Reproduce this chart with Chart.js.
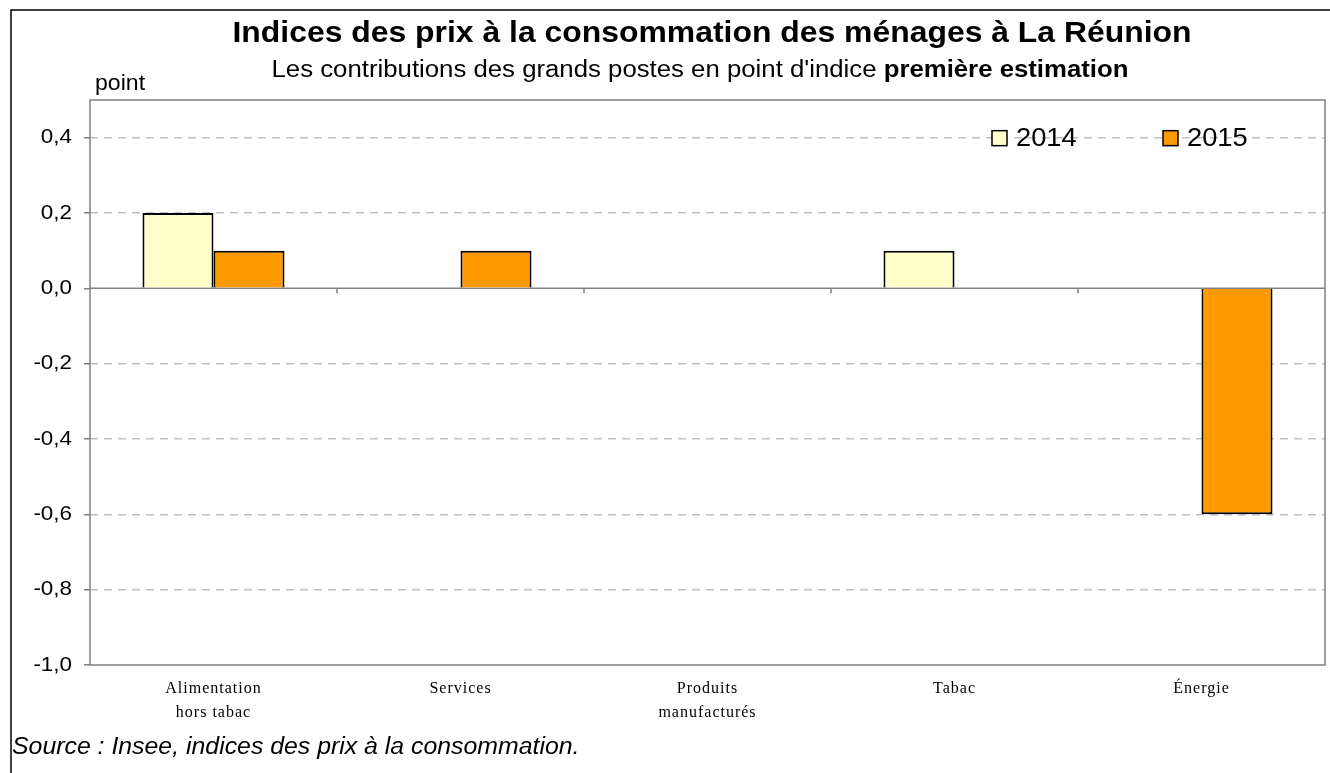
<!DOCTYPE html>
<html>
<head>
<meta charset="utf-8">
<script src="https://cdn.jsdelivr.net/npm/chart.js@4.4.0/dist/chart.umd.min.js"></script>
<style>
body { margin: 0; background: #fff; }
#wrap { width: 1330px; height: 773px; position: relative; }
</style>
</head>
<body>
<div id="wrap"><canvas id="chart"></canvas></div>
<script>
const categories = [['Alimentation', 'hors tabac'], 'Services', ['Produits', 'manufacturés'], 'Tabac', 'Énergie'];
const seriesLabels = ['2014', '2015'];
const values2014 = [0.2, 0, 0, 0.1, 0];
const values2015 = [0.1, 0.1, 0, 0, -0.6];
const seriesColors = ['#ffffcc', '#ff9900'];
const yMin = -1, yMax = 0.5, yStep = 0.2;

const titleText = 'Indices des prix à la consommation des ménages à La Réunion';
const subtitleText = "Les contributions des grands postes en point d'indice ";
const subtitleBold = 'première estimation';
const unitText = 'point';
const sourceText = 'Source : Insee, indices des prix à la consommation.';

const fmt = v => v.toFixed(1).replace('.', ',');
const SANS = 'Arial, "Liberation Sans"';

// texte un peu étiré en largeur, comme sur l'image d'origine
function stretchedText(ctx, text, x, y, font, sx) {
    ctx.save();
    ctx.font = font;
    ctx.translate(x, y);
    ctx.scale(sx, 1);
    ctx.fillText(text, 0, 0);
    ctx.restore();
}

function textWidth(ctx, text, font, sx) {
    ctx.save();
    ctx.font = font;
    const w = ctx.measureText(text).width * sx;
    ctx.restore();
    return w;
}

// cadre, ligne du zéro, textes et légende dessinés à la main
const decor = {
    id: 'decor',
    beforeDraw(chart) {
        chart.ctx.letterSpacing = '1px';
    },
    beforeDatasetsDraw(chart) {
        const { ctx, chartArea: a, scales: { x, y } } = chart;
        const y0 = y.getPixelForValue(0);
        ctx.save();
        ctx.strokeStyle = '#808080';
        ctx.lineWidth = 1.5;
        ctx.beginPath();
        ctx.moveTo(a.left, y0);
        ctx.lineTo(a.right, y0);
        for (let i = 1; i < categories.length; i++) {
            const px = (x.getPixelForValue(i - 1) + x.getPixelForValue(i)) / 2;
            ctx.moveTo(px, y0);
            ctx.lineTo(px, y0 + 5);
        }
        ctx.stroke();
        ctx.strokeRect(a.left, a.top, a.right - a.left, a.bottom - a.top);
        ctx.restore();
    },
    afterDraw(chart) {
        const { ctx, chartArea: a, scales: { y } } = chart;
        ctx.save();
        ctx.letterSpacing = '0px';
        // bordure extérieure
        ctx.strokeStyle = '#000';
        ctx.lineWidth = 1.5;
        ctx.beginPath();
        ctx.moveTo(11, 773);
        ctx.lineTo(11, 10);
        ctx.lineTo(1330, 10);
        ctx.stroke();

        ctx.fillStyle = '#000';
        ctx.textBaseline = 'middle';

        // graduations de l'axe vertical
        ctx.textAlign = 'right';
        y.ticks.forEach((t, i) => {
            if (t.label === null || t.label === undefined) return;
            stretchedText(ctx, t.label, a.left - 18, y.getPixelForTick(i), '20px ' + SANS, 1.12);
        });

        ctx.textAlign = 'left';
        const fTitle = 'bold 29px ' + SANS;
        const wt = textWidth(ctx, titleText, fTitle, 1.1);
        stretchedText(ctx, titleText, 712 - wt / 2, 34, fTitle, 1.1);

        const fSub = '23px ' + SANS, fSubB = 'bold 23px ' + SANS;
        const w1 = textWidth(ctx, subtitleText, fSub, 1.12);
        const w2 = textWidth(ctx, subtitleBold, fSubB, 1.12);
        const sx = 700 - (w1 + w2) / 2;
        stretchedText(ctx, subtitleText, sx, 71, fSub, 1.12);
        stretchedText(ctx, subtitleBold, sx + w1, 71, fSubB, 1.12);

        stretchedText(ctx, unitText, 95, 84, '22px ' + SANS, 1.05);
        stretchedText(ctx, sourceText, 12, 748, 'italic 23px ' + SANS, 1.08);

        // légende dans la zone du graphique
        const ly = y.getPixelForValue(0.4);
        const lx = [992, 1163];
        chart.data.datasets.forEach((ds, i) => {
            ctx.fillStyle = ds.backgroundColor;
            ctx.fillRect(lx[i], ly - 7, 15, 15);
            ctx.strokeStyle = '#000';
            ctx.lineWidth = 1.5;
            ctx.strokeRect(lx[i], ly - 7, 15, 15);
            ctx.fillStyle = '#000';
            stretchedText(ctx, ds.label, lx[i] + 24, ly + 1, '26px ' + SANS, 1.05);
        });
        ctx.restore();
    }
};

new Chart(document.getElementById('chart'), {
    type: 'bar',
    data: {
        labels: categories,
        datasets: [
            { label: seriesLabels[0], data: values2014, backgroundColor: seriesColors[0], borderColor: '#000', borderWidth: 2 },
            { label: seriesLabels[1], data: values2015, backgroundColor: seriesColors[1], borderColor: '#000', borderWidth: 2 }
        ]
    },
    options: {
        responsive: true,
        maintainAspectRatio: false,
        animation: false,
        layout: { padding: { left: 0, right: 5, top: 100, bottom: 0 } },
        datasets: { bar: { categoryPercentage: 0.575, barPercentage: 1 } },
        plugins: {
            legend: { display: false },
            tooltip: { enabled: false }
        },
        scales: {
            x: {
                grid: { display: false },
                border: { display: false },
                afterFit: s => { s.height = 108; },
                ticks: {
                    color: '#000',
                    padding: 4,
                    maxRotation: 0,
                    font: { family: '"Liberation Serif", "Times New Roman"', size: 16, lineHeight: 1.5 }
                }
            },
            y: {
                min: yMin,
                max: yMax,
                afterFit: s => { s.width = 90; },
                border: { display: false, dash: [8, 6] },
                grid: {
                    color: c => {
                        const v = c.tick ? Math.round(c.tick.value * 10) : 1;
                        return (v === 0 || v === 5 || v === -10) ? 'transparent' : '#c0c0c0';
                    },
                    tickColor: c => (c.tick && Math.round(c.tick.value * 10) === 5) ? 'transparent' : '#808080',
                    tickLength: 6,
                    lineWidth: 1.5
                },
                ticks: {
                    stepSize: yStep,
                    color: 'transparent',
                    padding: 10,
                    font: { family: SANS, size: 19 },
                    callback: v => Math.abs(Math.round(v * 10)) % 2 === 0 ? fmt(v) : null
                }
            }
        }
    },
    plugins: [decor]
});
</script>
</body>
</html>
